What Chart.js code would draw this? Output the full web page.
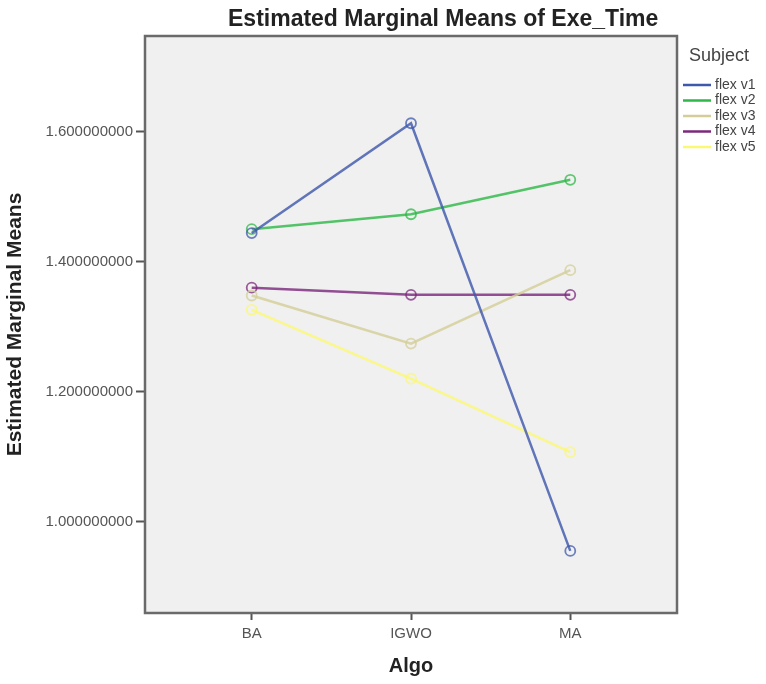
<!DOCTYPE html>
<html>
<head>
<meta charset="utf-8">
<script src="https://cdn.jsdelivr.net/npm/chart.js@4.4.1/dist/chart.umd.min.js"></script>
<style>
  html, body { margin: 0; padding: 0; background: #fff; }
  canvas { display: block; }
</style>
</head>
<body>
<canvas id="emmChart" width="766" height="684"></canvas>
<script>
// data
const algos = ['BA', 'IGWO', 'MA'];
const subjects = ['flex v1', 'flex v2', 'flex v3', 'flex v4', 'flex v5'];
const flexV1 = [1.444, 1.613, 0.955];
const flexV2 = [1.450, 1.473, 1.526];
const flexV3 = [1.348, 1.274, 1.387];
const flexV4 = [1.360, 1.349, 1.349];
const flexV5 = [1.326, 1.220, 1.107];
const yTicks = [1.0, 1.2, 1.4, 1.6];

// SPSS default palette
const colors = ['#3e58ac', '#2eb848', '#d3ce97', '#7c287d', '#fbf873'];
const seriesValues = [flexV1, flexV2, flexV3, flexV4, flexV5];

const FONT = "'Liberation Sans', Arial, sans-serif";

const datasets = subjects.map((name, i) => ({
    label: name,
    data: seriesValues[i].map((v, j) => ({ x: j + 1, y: v })),
    borderColor: colors[i] + 'd0',
    backgroundColor: 'transparent',
    borderWidth: 2.5,
    pointRadius: 5,
    pointBorderWidth: 1.8,
    pointBackgroundColor: 'transparent',
    pointBorderColor: colors[i] + 'c0',
    tension: 0
}));

// plot frame and grey background
const framePlugin = {
    id: 'frame',
    beforeDraw(chart) {
        const { ctx, chartArea: a } = chart;
        ctx.save();
        ctx.fillStyle = '#f0f0f0';
        ctx.fillRect(a.left, a.top, a.right - a.left, a.bottom - a.top);
        ctx.restore();
    },
    afterDraw(chart) {
        const { ctx, chartArea: a } = chart;
        ctx.save();
        ctx.strokeStyle = '#6a6a6a';
        ctx.lineWidth = 2.5;
        ctx.strokeRect(a.left, a.top, a.right - a.left, a.bottom - a.top);
        ctx.restore();
    }
};

// title + SPSS style legend on the right
const textPlugin = {
    id: 'texts',
    afterDraw(chart) {
        const { ctx } = chart;
        ctx.save();
        ctx.fillStyle = '#222';
        ctx.font = 'bold 23px ' + FONT;
        ctx.textAlign = 'left';
        ctx.textBaseline = 'alphabetic';
        ctx.fillText('Estimated Marginal Means of Exe_Time', 228, 26);

        ctx.fillStyle = '#444';
        ctx.font = '18px ' + FONT;
        ctx.fillText('Subject', 689, 61);

        ctx.font = '14px ' + FONT;
        ctx.textBaseline = 'middle';
        chart.data.datasets.forEach((ds, i) => {
            const y = 85 + i * 15.5;
            ctx.strokeStyle = colors[i];
            ctx.lineWidth = 2.5;
            ctx.beginPath();
            ctx.moveTo(683, y);
            ctx.lineTo(711, y);
            ctx.stroke();
            ctx.fillText(ds.label, 715, y);
        });
        ctx.restore();
    }
};

new Chart(document.getElementById('emmChart').getContext('2d'), {
    type: 'line',
    data: { datasets },
    options: {
        responsive: false,
        animation: false,
        layout: { padding: { top: 36, right: 89, left: 0, bottom: 0 } },
        scales: {
            x: {
                type: 'linear',
                min: 0.33,
                max: 3.67,
                afterBuildTicks: (s) => { s.ticks = algos.map((_, i) => ({ value: i + 1 })); },
                afterFit: (s) => { s.height = 71; },
                ticks: {
                    callback: (v) => algos[v - 1],
                    color: '#555',
                    font: { family: FONT, size: 15 },
                    padding: 5,
                    maxRotation: 0
                },
                grid: { drawOnChartArea: false, drawTicks: true, tickLength: 7, tickColor: '#555', tickWidth: 2 },
                border: { display: false },
                title: {
                    display: true,
                    text: 'Algo',
                    color: '#222',
                    font: { family: FONT, size: 20, weight: 'bold' },
                    padding: { top: 0, bottom: 6 }
                }
            },
            y: {
                min: 0.8595,
                max: 1.7472,
                afterBuildTicks: (s) => { s.ticks = yTicks.map(v => ({ value: v })); },
                afterFit: (s) => { s.width = 145; },
                ticks: {
                    callback: (v) => Number(v).toFixed(9),
                    color: '#555',
                    font: { family: FONT, size: 15 },
                    padding: 3
                },
                grid: { drawOnChartArea: false, drawTicks: true, tickLength: 9, tickColor: '#555', tickWidth: 2 },
                border: { display: false },
                title: {
                    display: true,
                    text: 'Estimated Marginal Means',
                    color: '#222',
                    font: { family: FONT, size: 21, weight: 'bold' },
                    padding: { top: 3, bottom: 0 }
                }
            }
        },
        plugins: {
            legend: { display: false },
            title: { display: false },
            tooltip: { enabled: false }
        }
    },
    plugins: [framePlugin, textPlugin]
});
</script>
</body>
</html>
